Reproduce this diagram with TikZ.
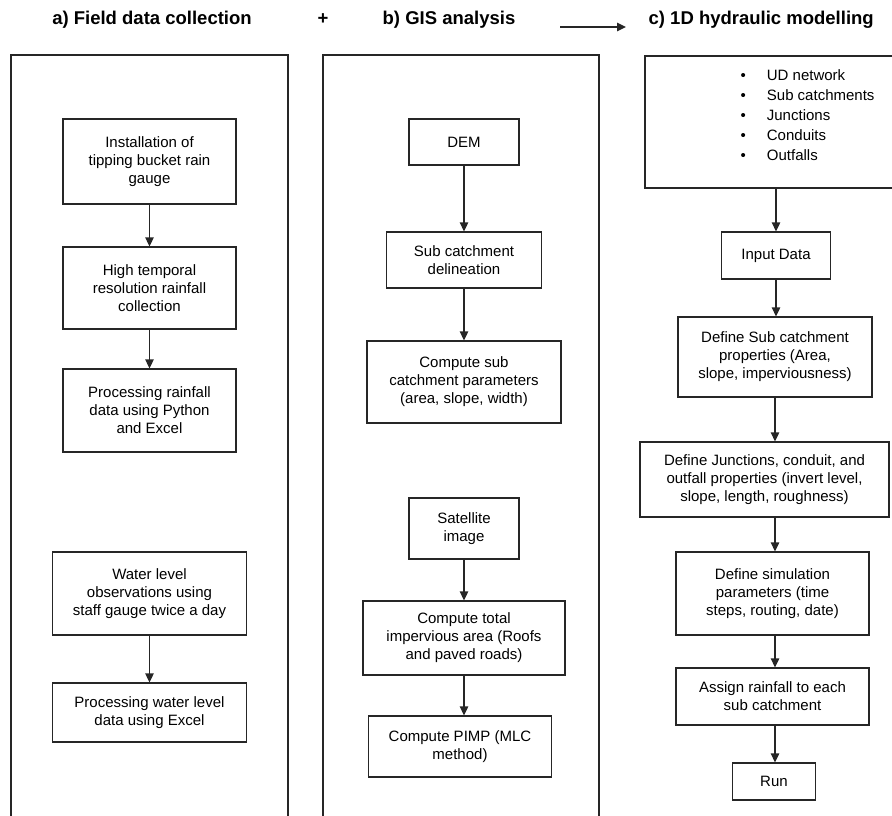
\documentclass[tikz,border=0pt]{standalone}
\usepackage{fontspec}
\setmainfont{Liberation Sans}
\usetikzlibrary{arrows.meta, positioning, calc}
\definecolor{cline}{HTML}{262626}
\tikzset{
  every picture/.style={font=\fontsize{15}{18}\selectfont, line width=1.3pt},
  box/.style={draw=cline, align=center, inner sep=2pt, text=black},
  frame/.style={draw=cline, line width=1.5pt, inner sep=0pt},
  arrow/.style={-{Triangle[length=9pt, width=8.5pt]}, draw=cline, line width=1.3pt},
  title/.style={font=\fontsize{18.5}{22}\selectfont\bfseries, inner sep=0pt},
}
\begin{document}
\begin{tikzpicture}[x=1pt, y=-1pt]
  \useasboundingbox (0,0) rectangle (892,815);
  \clip (0,0) rectangle (892,815);
  % titles across the top
  \node[title] (fieldtitle) at (152,20) {a) Field data collection};
  \node[title] (plus) at (323,19) {+};
  \node[title] (gistitle) at (449,20) {b) GIS analysis};
  \node[title, anchor=west] (hydtitle) at (648,20) {c) 1D hydraulic modelling};
  \coordinate (titlefrom) at (560,27);
  \coordinate (titleto) at (626,27);
  \draw[arrow, line width=1.5pt] (titlefrom) -- (titleto);
  % panel frames, running off the bottom
  \node[frame, minimum width=277, minimum height=800, anchor=north west] (fieldpanel) at (10,54) {};
  \node[frame, minimum width=276, minimum height=800, anchor=north west] (gispanel) at (322,54) {};
  % a) field data collection
  \node[box, minimum width=173, minimum height=85] (install) at (149.5,161.5) {Installation of\\tipping bucket rain\\gauge};
  \node[box, minimum width=173, minimum height=82] (temporal) at (149.5,288) {High temporal\\resolution rainfall\\collection};
  \node[box, minimum width=173, minimum height=83] (rainproc) at (149.5,410.5) {Processing rainfall\\data using Python\\and Excel};
  \node[box, minimum width=194, minimum height=83] (waterlevel) at (149.5,593.5) {Water level\\observations using\\staff gauge twice a day};
  \node[box, minimum width=194, minimum height=59] (waterproc) at (149.5,712.5) {Processing water level\\data using Excel};
  \draw[arrow] (install) -- (temporal);
  \draw[arrow] (temporal) -- (rainproc);
  \draw[arrow] (waterlevel) -- (waterproc);
  % b) GIS analysis
  \node[box, minimum width=110, minimum height=46] (dem) at (464,142) {DEM};
  \node[box, minimum width=155, minimum height=56] (delin) at (464,260) {Sub catchment\\delineation};
  \node[box, minimum width=194, minimum height=82] (subpar) at (464,382) {Compute sub\\catchment parameters\\(area, slope, width)};
  \node[box, minimum width=110, minimum height=61] (satellite) at (464,528.5) {Satellite\\image};
  \node[box, minimum width=202, minimum height=74] (imperv) at (464,638) {Compute total\\impervious area (Roofs\\and paved roads)};
  \node[box, minimum width=183, minimum height=61] (pimp) at (460,746.5) {Compute PIMP (MLC\\method)};
  \draw[arrow] (dem) -- (delin);
  \draw[arrow] (delin) -- (subpar);
  \draw[arrow] (satellite) -- (imperv);
  \draw[arrow] (imperv.south) -- (imperv.south |- pimp.north);
  % c) 1D hydraulic modelling
  \node[box, minimum width=262, minimum height=132] (udbox) at (776,122) {};
  \node[anchor=north west, inner sep=0pt, align=left] (udlist) at (740,67) {%
    \begin{tabular}{@{}l@{\hspace{21pt}}l@{}}
      \textbullet & UD network\\[2pt]
      \textbullet & Sub catchments\\[2pt]
      \textbullet & Junctions\\[2pt]
      \textbullet & Conduits\\[2pt]
      \textbullet & Outfalls
    \end{tabular}};
  \node[box, minimum width=109, minimum height=47] (input) at (776,255.5) {Input Data};
  \node[box, minimum width=194, minimum height=80] (subprop) at (775,357) {Define Sub catchment\\properties (Area,\\slope, imperviousness)};
  \node[box, minimum width=249, minimum height=75] (junction) at (764.5,479.5) {Define Junctions, conduit, and\\outfall properties (invert level,\\slope, length, roughness)};
  \node[box, minimum width=193, minimum height=83] (simpar) at (772.5,593.5) {Define simulation\\parameters (time\\steps, routing, date)};
  \node[box, minimum width=193, minimum height=57] (assign) at (772.5,696.5) {Assign rainfall to each\\sub catchment};
  \node[box, minimum width=83, minimum height=37] (run) at (774,781.5) {Run};
  \draw[arrow] (udbox.south -| input.north) -- (input.north);
  \draw[arrow] (input.south) -- (input.south |- subprop.north);
  \draw[arrow] (subprop.south) -- (subprop.south |- junction.north);
  \draw[arrow] (subprop.south |- junction.south) -- (subprop.south |- simpar.north);
  \draw[arrow] (subprop.south |- simpar.south) -- (subprop.south |- assign.north);
  \draw[arrow] (subprop.south |- assign.south) -- (subprop.south |- run.north);
\end{tikzpicture}
\end{document}
